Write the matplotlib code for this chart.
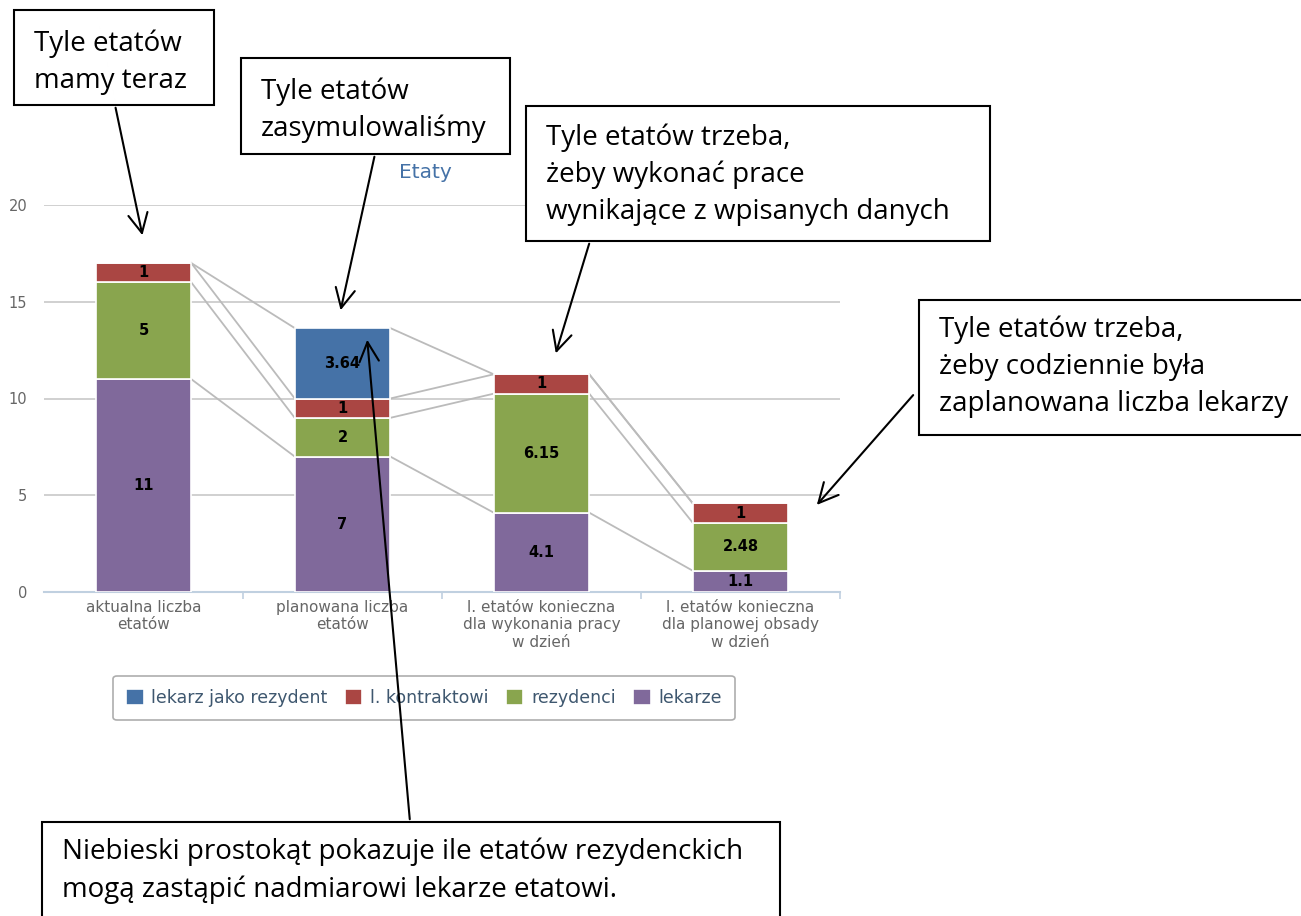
import matplotlib
matplotlib.use("Agg")
import matplotlib.pyplot as plt
from matplotlib.patches import Rectangle, FancyArrowPatch
import numpy as np

categories = ["aktualna liczba\netatów", "planowana liczba\netatów",
              "l. etatów konieczna\ndla wykonania pracy\nw dzień",
              "l. etatów konieczna\ndla planowej obsady\nw dzień"]
lekarze = [11, 7, 4.1, 1.1]
rezydenci = [5, 2, 6.15, 2.48]
l_kontraktowi = [1, 1, 1, 1]
lekarz_jako_rezydent = [0, 3.64, 0, 0]
y_ticks = [0, 5, 10, 15, 20]

series = [("lekarze", lekarze, "#80699B"),
          ("rezydenci", rezydenci, "#89A54E"),
          ("l. kontraktowi", l_kontraktowi, "#AA4643"),
          ("lekarz jako rezydent", lekarz_jako_rezydent, "#4572A7")]
legend_order = ["lekarz jako rezydent", "l. kontraktowi", "rezydenci", "lekarze"]

W, H = 1301, 916
fig = plt.figure(figsize=(W / 100, H / 100), dpi=100)
ax = fig.add_axes([44 / W, (H - 592) / H, 796 / W, 387 / H])

x = np.arange(len(categories))
bw = 0.48
bottom = np.zeros(len(categories))
tops = {}
handles = {}
for name, vals, col in series:
    vals = np.array(vals, dtype=float)
    b = ax.bar(x, vals, bw, bottom=bottom, color=col, edgecolor="white",
               linewidth=1.2, zorder=3)
    handles[name] = b
    for xi, v, bo in zip(x, vals, bottom):
        if v > 0:
            ax.text(xi, bo + v / 2, f"{v:g}", ha="center", va="center",
                    fontsize=10.5, fontweight="bold", color="black", zorder=5,
                    family="DejaVu Sans")
    bottom = bottom + vals
    tops[name] = bottom.copy()

# connector lines between stacks
for name, _, _ in series:
    t = tops[name]
    for i in range(len(x) - 1):
        ax.plot([x[i] + bw / 2, x[i + 1] - bw / 2], [t[i], t[i + 1]],
                color="#BBBBBB", lw=1.3, zorder=2)

ax.set_xlim(-0.5, 3.5)
ax.set_ylim(0, 20)
ax.set_yticks(y_ticks)
ax.set_yticklabels([str(t) for t in y_ticks], color="#666666", fontsize=10.5)
ax.yaxis.grid(True, color="#C8C8C8", lw=1.2, zorder=0)
ax.set_axisbelow(True)
ax.tick_params(axis="y", length=0, pad=12)
ax.set_xticks([0.5, 1.5, 2.5, 3.5])
ax.set_xticklabels([])
ax.tick_params(axis="x", length=5, color="#C0D0E0", width=1.2)
for i, c in enumerate(categories):
    ax.text(i, -0.4, c, ha="center", va="top", fontsize=11, color="#666666",
            linespacing=1.2)
for s in ["top", "right", "left"]:
    ax.spines[s].set_visible(False)
ax.spines["bottom"].set_color("#C0D0E0")
ax.spines["bottom"].set_linewidth(1.5)

fig.text(425 / W, (H - 173) / H, "Etaty", ha="center", va="center",
         fontsize=14.5, color="#4572A7")

# legend
leg = fig.legend([handles[n] for n in legend_order], legend_order,
                 loc="center", bbox_to_anchor=(424 / W, (H - 698) / H),
                 ncol=4, frameon=True, fontsize=12.5, handlelength=1.0,
                 handleheight=1.0, columnspacing=1.0, handletextpad=0.45,
                 borderpad=0.75, borderaxespad=0, fancybox=True)
leg.get_frame().set_edgecolor("#999999")
leg.get_frame().set_linewidth(1.2)
for t in leg.get_texts():
    t.set_color("#3E576F")

# annotation boxes (figure pixel coords, top-left origin)
def box(x0, y0, x1, y1, text, tx, ty, ls=1.42):
    r = Rectangle((x0 / W, (H - y1) / H), (x1 - x0) / W, (y1 - y0) / H,
                  transform=fig.transFigure, facecolor="white",
                  edgecolor="black", lw=1.5, zorder=10)
    fig.patches.append(r)
    fig.text(tx / W, (H - ty) / H, text, ha="left", va="top", fontsize=20,
             family="Open Sans", color="black", linespacing=ls, zorder=11)

def arrow(xs, ys, xe, ye):
    fig.add_artist(FancyArrowPatch(
        (xs / W, (H - ys) / H), (xe / W, (H - ye) / H),
        transform=fig.transFigure, arrowstyle="->,head_length=14,head_width=7",
        color="black", lw=1.5, zorder=12, mutation_scale=1))

box(14, 10, 214, 105, "Tyle etatów\nmamy teraz", 34, 30)
box(241, 58, 510, 154, "Tyle etatów\nzasymulowaliśmy", 261, 77)
box(526, 106, 990, 241,
    "Tyle etatów trzeba,\nżeby wykonać prace\nwynikające z wpisanych danych", 546, 123)
box(919, 300, 1310, 435,
    "Tyle etatów trzeba,\nżeby codziennie była\nzaplanowana liczba lekarzy", 939, 316)
box(42, 822, 780, 930,
    "Niebieski prostokąt pokazuje ile etatów rezydenckich\nmogą zastąpić nadmiarowi lekarze etatowi.", 62, 838)

arrow(115, 105, 143, 238)
arrow(375, 154, 340, 313)
arrow(590, 241, 555, 356)
arrow(915, 393, 815, 507)
arrow(410, 822, 367, 337)

fig.savefig("out.png", dpi=100, facecolor="white")
